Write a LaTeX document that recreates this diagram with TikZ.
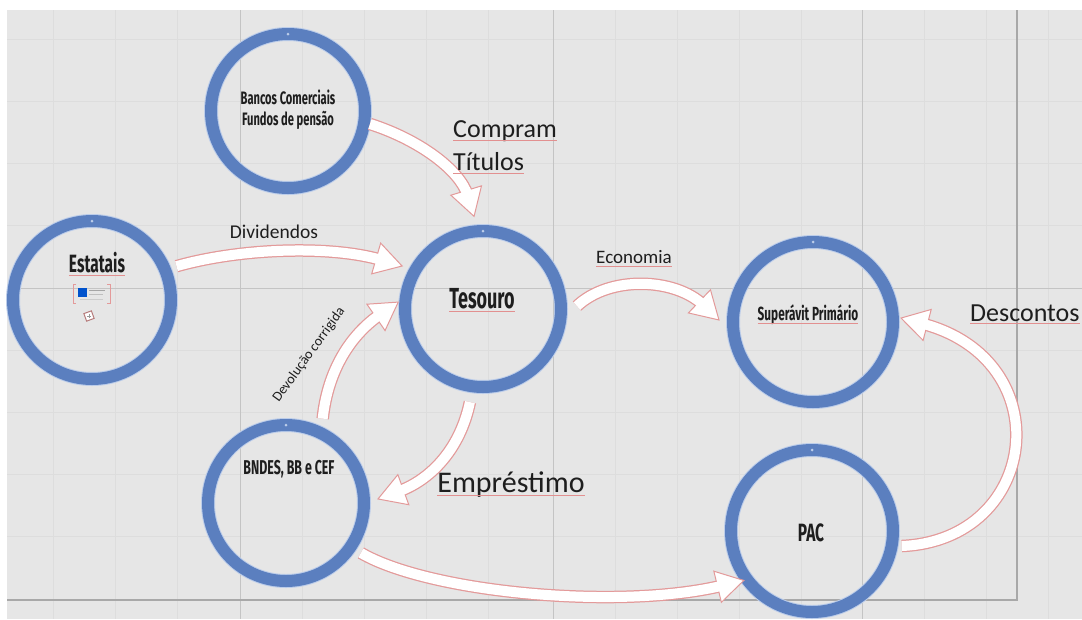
\documentclass[tikz,border=0pt]{standalone}
\usepackage{fontspec}
\setmainfont{Carlito}
\newfontfamily\condfont{Fira Sans}[FakeStretch=0.62]
\usetikzlibrary{decorations.markings,calc}
\definecolor{bg}{HTML}{E6E6E6}
\definecolor{gridminor}{HTML}{DDDDDD}
\definecolor{gridmajor}{HTML}{C4C4C4}
\definecolor{gridborder}{HTML}{A8A8A8}
\definecolor{ringblue}{HTML}{5B7FBF}
\definecolor{ringhalo}{HTML}{BCCDEA}
\definecolor{arrowpink}{HTML}{E39A9A}
\definecolor{spellred}{HTML}{E29090}
\definecolor{txt}{HTML}{1E1E1E}
\begin{document}
\begin{tikzpicture}[x=1pt,y=-1pt,
  ring/.style={circle, draw=ringblue, line width=12pt, outer sep=0pt, inner sep=0pt,
    minimum size=#1, preaction={draw=ringhalo, line width=14pt}},
  topdot/.style={fill=ringhalo},
  blockarr/.style={
    preaction={draw=arrowpink, line width=12.5pt, shorten >=22pt},
    postaction={decorate, decoration={markings, mark=at position 0.9995 with {
      \draw[arrowpink, fill=white, line width=1pt, line join=miter]
        (0pt,0pt) -- (-27pt,16pt) -- (-27pt,-16pt) -- cycle;}}},
    postaction={draw=white, line width=10pt, shorten >=22pt}},
  elabel/.style={text=txt, inner sep=0pt},
  clabel/.style={text=txt, inner sep=0pt},
  spell/.style={draw=spellred, line width=0.6pt}
]
% background
\useasboundingbox (0,0) rectangle (1082,619);
\fill[white] (0,0) rectangle (1082,619);
\fill[bg] (7,10) rectangle (1082,619);
\foreach \gx in {53.4,115.6,177.8,302.2,364.4,426.6,488.8,615.2,677.4,739.6,801.8,924.2,986.4,1048.6}
  \draw[gridminor, line width=0.8pt] (\gx,10) -- (\gx,619);
\foreach \gy in {39.2,101.4,163.6,225.8,350.2,412.4,474.6,536.8}
  \draw[gridminor, line width=0.8pt] (7,\gy) -- (1082,\gy);
\foreach \gx in {240,553,862}
  \draw[gridmajor, line width=1pt] (\gx,10) -- (\gx,619);
\draw[gridmajor, line width=1pt] (7,288) -- (1082,288);
\draw[gridborder, line width=1.6pt] (1017,10) -- (1017,600) -- (7,600);

% circles
\node[ring=158pt] (est) at (92,300) {};
\node[ring=154pt] (ban) at (288,111) {};
\node[ring=156pt] (tes) at (483,309) {};
\node[ring=160pt] (sup) at (813,322) {};
\node[ring=156pt] (bnd) at (286,503) {};
\node[ring=162pt] (pac) at (812,531) {};
\foreach \n in {est,ban,tes,sup,bnd,pac}
  \fill[topdot] (\n.north) circle (1.5pt);

% circle labels
\node[clabel, font=\condfont\bfseries\fontsize{18}{21}\selectfont, align=center] (banT) at (288,110) {Bancos Comerciais\\Fundos de pensão};
\node[clabel, font=\condfont\bfseries\fontsize{25}{28}\selectfont] (estT) at (97,263) {Estatais};
\node[clabel, font=\condfont\bfseries\fontsize{29}{32}\selectfont] (tesT) at (482,299) {Tesouro};
\node[clabel, font=\condfont\bfseries\fontsize{19}{22}\selectfont] (supT) at (808,315) {Superávit Primário};
\node[clabel, font=\condfont\bfseries\fontsize{20}{23}\selectfont] (bndT) at (289,469) {BNDES, BB e CEF};
\node[clabel, font=\condfont\bfseries\fontsize{25}{28}\selectfont] (pacT) at (811,533) {PAC};

% small icon under Estatais
\draw[arrowpink, line width=1pt] (76,284) -- (73,284) -- (73,303) -- (76,303);
\draw[arrowpink, line width=1pt] (107,284) -- (110,284) -- (110,303) -- (107,303);
\fill[blue!60!cyan!80!black] (78,288) rectangle (87,297);
\draw[gray!70, line width=1pt] (89,290) -- (105,290);
\draw[gray!50, line width=1pt] (89,294) -- (103,294);
\draw[gray!40, line width=1pt] (80,299) -- (103,299);
\node[draw=arrowpink!80!black, fill=white, line width=1pt, minimum size=8pt, inner sep=0pt, rotate=20] (icon) at (89,316) {};
\draw[gray!80, line width=0.8pt] ([shift={(-2,0)}]icon.center) -- ([shift={(2,0)}]icon.center);
\draw[gray!80, line width=0.8pt] ([shift={(0,-2)}]icon.center) -- ([shift={(0,2)}]icon.center);

% arrows
\path[blockarr] ($(ban.center)+(-9:83pt)$) .. controls +(50,16) and +(-14,-46) .. ($(tes.center)+(95.5:93pt)$);
\path[blockarr] ($(est.center)+(21.8:91pt)$) .. controls +(63,-18) and +(-72,-21) .. ($(tes.center)+(152:91.5pt)$);
\path[blockarr] ($(tes.center)+(1.8:94pt)$) .. controls +(33,-31) and +(-44,-42) .. ($(sup.center)+(178.8:94pt)$);
\path[blockarr] ($(pac.center)+(-9.5:91pt)$) .. controls +(138,-6) and +(160,42) .. ($(sup.center)+(2.6:88pt)$);
\path[blockarr] ($(tes.center)+(-98:94pt)$) .. controls +(-10,48) and +(52,-19) .. ($(bnd.center)+(2.5:92pt)$);
\path[blockarr] ($(bnd.center)+(66.5:92pt)$) .. controls +(5,-48) and +(-48,33) .. ($(tes.center)+(175.3:85pt)$);
\path[blockarr] ($(bnd.center)+(-33.7:90pt)$) .. controls +(69,40) and +(-124,30) .. ($(pac.center)+(-144:84pt)$);

% edge labels
\node[elabel, font=\fontsize{26}{30}\selectfont, anchor=west] (compT) at (453,131) {Compram};
\node[elabel, font=\fontsize{26}{30}\selectfont, anchor=west] (titT) at (453,162) {Títulos};
\node[elabel, font=\fontsize{19.5}{22}\selectfont] (divT) at (274,232) {Dividendos};
\node[elabel, font=\fontsize{19}{22}\selectfont] (ecoT) at (634,257) {Economia};
\node[elabel, font=\fontsize{30}{34}\selectfont] (empT) at (511,485) {Empréstimo};
\node[elabel, font=\fontsize{26}{30}\selectfont, anchor=west] (desT) at (970,313) {Descontos};
\node[elabel, font=\fontsize{14}{16}\selectfont, rotate=54] (devT) at (309,355) {Devolução corrigida};

% spell-check underlines
\foreach \n in {compT,titT,ecoT,empT,desT,tesT,supT,estT}
  \draw[spell] ([yshift=-2.5pt]\n.base west) -- ([yshift=-2.5pt]\n.base east);
\end{tikzpicture}
\end{document}
